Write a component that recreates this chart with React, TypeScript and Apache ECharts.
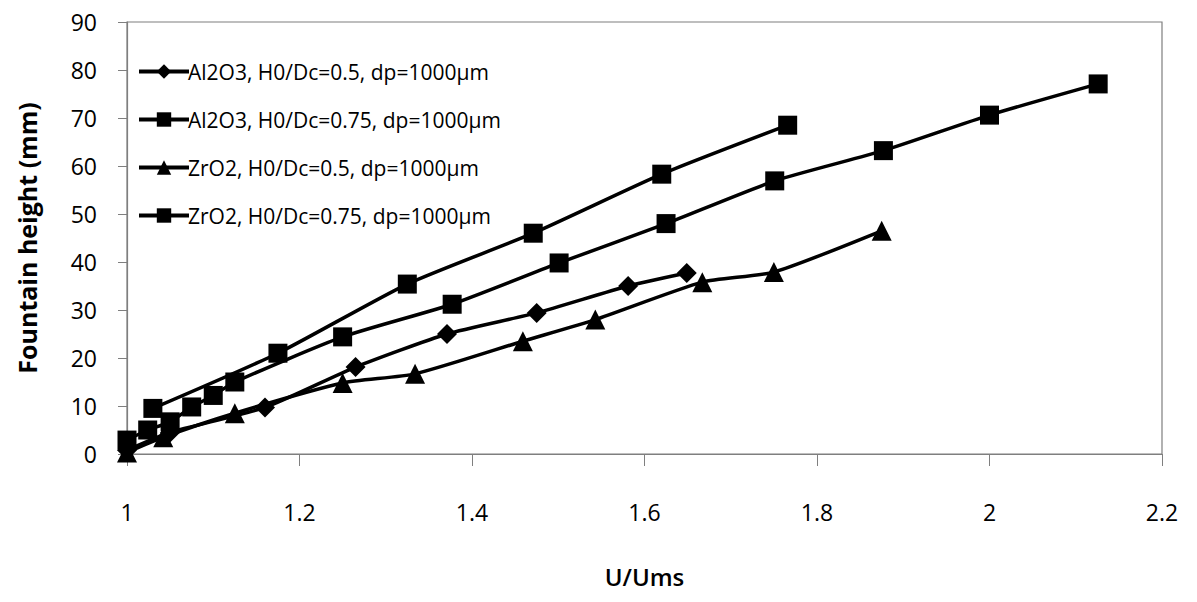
import React, { useEffect, useRef } from "react";
import * as echarts from "echarts";

const seriesNames = [
  "Al2O3, H0/Dc=0.5, dp=1000µm",
  "Al2O3, H0/Dc=0.75, dp=1000µm",
  "ZrO2, H0/Dc=0.5, dp=1000µm",
  "ZrO2, H0/Dc=0.75, dp=1000µm",
];

const al05X = [1.0, 1.05, 1.16, 1.265, 1.371, 1.475, 1.581, 1.649];
const al05Y = [0.8, 4.5, 9.7, 18.1, 25.0, 29.4, 35.0, 37.7];

const al075X = [1.03, 1.175, 1.325, 1.471, 1.62, 1.766];
const al075Y = [9.5, 21.0, 35.4, 46.0, 58.3, 68.5];

const zr05X = [1.0, 1.042, 1.125, 1.25, 1.334, 1.459, 1.543, 1.667, 1.75, 1.875];
const zr05Y = [0.3, 3.5, 8.5, 14.8, 16.7, 23.5, 28.0, 35.8, 37.9, 46.5];

const zr075X = [1.0, 1.024, 1.05, 1.075, 1.1, 1.125, 1.25, 1.377, 1.501, 1.625, 1.751, 1.877, 2.0, 2.126];
const zr075Y = [2.9, 5.0, 6.7, 9.8, 12.2, 15.0, 24.4, 31.2, 39.8, 48.0, 56.9, 63.2, 70.6, 77.1];

const xTicks = { min: 1, max: 2.2, interval: 0.2 };
const yTicks = { min: 0, max: 90, interval: 10 };

const zip = (xs: number[], ys: number[]) => xs.map((x, i) => [x, ys[i]]);

const FONT = "'Open Sans', 'Noto Sans', sans-serif";

export default function App() {
  const ref = useRef<HTMLDivElement>(null);
  useEffect(() => {
    if (!ref.current) return;
    const chart = echarts.init(ref.current, null, { renderer: "svg" });
    const mk = (name: string, data: number[][], symbol: string, size: number) => ({
      name,
      type: "line",
      data,
      symbol,
      symbolSize: size,
      smooth: 0.2,
      lineStyle: { color: "#000", width: 3.5 },
      itemStyle: { color: "#000" },
      z: 3,
    });
    chart.setOption({
      animation: false,
      backgroundColor: "#fff",
      textStyle: { fontFamily: FONT },
      grid: {
        left: 127,
        top: 22,
        right: 35,
        bottom: 148,
        show: true,
        borderColor: "#7f7f7f",
        borderWidth: 1.2,
        backgroundColor: "transparent",
      },
      legend: {
        orient: "vertical",
        left: 132,
        top: 56,
        itemWidth: 50,
        itemHeight: 18,
        itemGap: 27,
        lineStyle: { width: 4, color: "#000" },
        textStyle: { fontFamily: FONT, fontSize: 21, color: "#000", padding: [0, 0, 0, -6] },
        data: seriesNames,
      },
      xAxis: {
        type: "value",
        min: xTicks.min,
        max: xTicks.max,
        interval: xTicks.interval,
        name: "U/Ums",
        nameLocation: "middle",
        nameGap: 110,
        nameTextStyle: { fontFamily: FONT, fontSize: 24, color: "#000", fontWeight: 600 },
        axisLine: { show: true, lineStyle: { color: "#7f7f7f", width: 1.2 } },
        axisTick: { show: true, inside: false, length: 12, lineStyle: { color: "#7f7f7f" } },
        axisLabel: {
          fontFamily: FONT,
          fontSize: 23,
          color: "#000",
          margin: 46,
          formatter: (v: number) => String(Math.round(v * 10) / 10),
        },
        splitLine: { show: false },
      },
      yAxis: {
        type: "value",
        min: yTicks.min,
        max: yTicks.max,
        interval: yTicks.interval,
        name: "Fountain height (mm)",
        nameLocation: "middle",
        nameGap: 88,
        nameTextStyle: { fontFamily: FONT, fontSize: 25, color: "#000", fontWeight: "bold" },
        axisLine: { show: true, lineStyle: { color: "#7f7f7f", width: 1.2 } },
        axisTick: { show: true, inside: false, length: 9, lineStyle: { color: "#7f7f7f" } },
        axisLabel: { fontFamily: FONT, fontSize: 23, color: "#000", margin: 30 },
        splitLine: { show: false },
      },
      series: [
        mk(seriesNames[0], zip(al05X, al05Y), "diamond", 20),
        mk(seriesNames[1], zip(al075X, al075Y), "rect", 19),
        mk(seriesNames[2], zip(zr05X, zr05Y), "triangle", 20),
        mk(seriesNames[3], zip(zr075X, zr075Y), "rect", 19),
      ],
    });
    return () => chart.dispose();
  }, []);
  return <div ref={ref} style={{ width: 1197, height: 602, margin: -8 }} />;
}
